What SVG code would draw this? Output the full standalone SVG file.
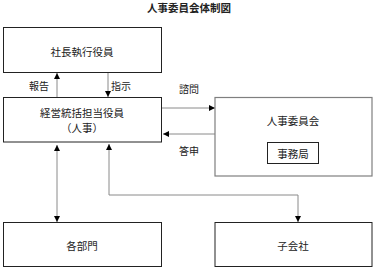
<svg xmlns="http://www.w3.org/2000/svg" width="376" height="269" viewBox="0 0 376 269">
<style>
text{font-family:"Noto Sans CJK JP","Noto Sans CJK SC",sans-serif;font-size:10.5px;fill:#222;text-anchor:middle;dominant-baseline:central}
.box{fill:#fff;stroke:#222;stroke-width:1}
.gbox{fill:#fff;stroke:#7f7f7f;stroke-width:1.2}
.ln{fill:none;stroke:#8a8a8a;stroke-width:1}
.title{font-weight:bold;font-size:10.5px}
.lbl{font-size:10px}
</style>
<defs>
<marker id="ah" viewBox="0 0 10 10" refX="10" refY="5" markerWidth="6" markerHeight="6" markerUnits="userSpaceOnUse" orient="auto-start-reverse">
<path d="M0,0L10,5L0,10z" fill="#000"/>
</marker>
</defs>
<rect width="376" height="269" fill="#fff"/>
<text class="title" x="189" y="7">人事委員会体制図</text>
<g id="connectors">
<line class="ln" x1="57" y1="97" x2="57" y2="73" marker-end="url(#ah)"/>
<line class="ln" x1="108" y1="73" x2="108" y2="97" marker-end="url(#ah)"/>
<line class="ln" x1="162" y1="108" x2="215" y2="108" marker-end="url(#ah)"/>
<line class="ln" x1="215" y1="134" x2="163" y2="134" marker-end="url(#ah)"/>
<line class="ln" x1="57" y1="145" x2="57" y2="222" marker-start="url(#ah)" marker-end="url(#ah)"/>
<polyline class="ln" points="109,144 109,195 298,195 298,222" marker-start="url(#ah)" marker-end="url(#ah)"/>
<text class="lbl" x="39" y="85">報告</text>
<text class="lbl" x="121" y="85">指示</text>
<text class="lbl" x="189" y="88">諮問</text>
<text class="lbl" x="189" y="150">答申</text>
</g>
<g id="n1"><rect class="box" x="3.5" y="27.5" width="158" height="45"/><text x="82" y="51">社長執行役員</text></g>
<g id="n2"><rect class="box" x="3.5" y="97.5" width="158" height="44.5"/><text x="82" y="112">経営統括担当役員</text><text x="82" y="127">（人事）</text></g>
<g id="n3"><rect class="gbox" x="215" y="97.5" width="157" height="78.5"/><text x="293" y="120">人事委員会</text>
<g id="n4"><rect class="box" x="267.5" y="142.5" width="51" height="21"/><text x="293" y="153">事務局</text></g></g>
<g id="n5"><rect class="box" x="3.5" y="222.5" width="158" height="44"/><text x="82" y="245">各部門</text></g>
<g id="n6"><rect class="box" x="215" y="222.5" width="157" height="44"/><text x="293" y="245">子会社</text></g>
</svg>
